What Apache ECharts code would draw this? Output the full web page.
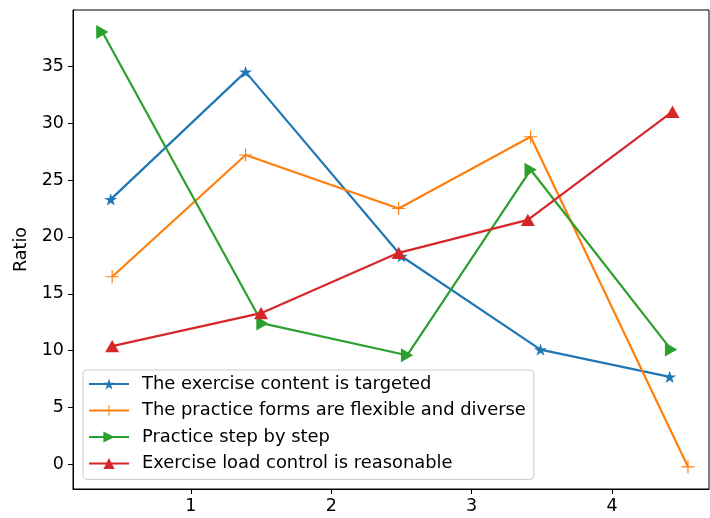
<!DOCTYPE html>
<html>
<head>
<meta charset="utf-8">
<script src="https://cdn.jsdelivr.net/npm/echarts@6/dist/echarts.min.js"></script>
<style>html,body{margin:0;padding:0;background:#fff}#c{width:710px;height:518px}</style>
</head>
<body>
<div id="c"></div>
<script>
const seriesNames = [
  'The exercise content is targeted',
  'The practice forms are flexible and diverse',
  'Practice step by step',
  'Exercise load control is reasonable'
];
const targetedX = [0.43, 1.39, 2.50, 3.49, 4.41];
const targetedY = [23.3, 34.5, 18.3, 10.1, 7.7];
const flexibleX = [0.44, 1.39, 2.48, 3.42, 4.54];
const flexibleY = [16.5, 27.2, 22.5, 28.8, -0.2];
const stepX = [0.37, 1.51, 2.54, 3.42, 4.42];
const stepY = [38.0, 12.4, 9.6, 25.9, 10.1];
const loadX = [0.44, 1.50, 2.48, 3.40, 4.43];
const loadY = [10.4, 13.3, 18.6, 21.5, 31.0];
const yTicks = [0, 5, 10, 15, 20, 25, 30, 35];
const xTicks = [1, 2, 3, 4];

const colors = ['#1f77b4', '#ff7f0e', '#2ca02c', '#d62728'];
const starPath = 'path://M0,-100 L22.5,-30.9 L95.1,-30.9 L36.3,11.8 L58.8,80.9 L0,38.2 L-58.8,80.9 L-36.3,11.8 L-95.1,-30.9 L-22.5,-30.9 Z';
const plusPath = 'path://M-9,-100 L9,-100 L9,-9 L100,-9 L100,9 L9,9 L9,100 L-9,100 L-9,9 L-100,9 L-100,-9 L-9,-9 Z';
const rightTri = 'path://M0,0 L100,57 L0,114 Z';
const upTri = 'path://M57,0 L114,100 L0,100 Z';

function pairs(xs, ys) { return xs.map((x, i) => [x, ys[i]]); }
const xsAll = [targetedX, flexibleX, stepX, loadX];
const ysAll = [targetedY, flexibleY, stepY, loadY];
const symbols = [starPath, plusPath, rightTri, upTri];
const sizes = [13, 13, 14, 14];

const chart = echarts.init(document.getElementById('c'), null, {renderer: 'canvas'});
const font = 'DejaVu Sans';
chart.setOption({
  animation: false,
  backgroundColor: '#fff',
  grid: {left: 73, right: 1, top: 10, bottom: 29, show: true, borderColor: '#000', borderWidth: 1, backgroundColor: 'transparent'},
  xAxis: {
    type: 'value', min: 0.161, max: 4.69,
    axisLine: {show: true, onZero: false, lineStyle: {color: '#000', width: 1}},
    axisTick: {show: true, length: 5, lineStyle: {color: '#000'}, customValues: xTicks},
    axisLabel: {color: '#000', fontSize: 17.5, fontFamily: font, margin: 8, customValues: xTicks},
    splitLine: {show: false}
  },
  yAxis: {
    type: 'value', min: -2.15, max: 39.94,
    name: 'Ratio', nameLocation: 'middle', nameGap: 43,
    nameTextStyle: {color: '#000', fontSize: 17.5, fontFamily: font},
    axisLine: {show: true, onZero: false, lineStyle: {color: '#000', width: 1}},
    axisTick: {show: true, length: 5, lineStyle: {color: '#000'}, customValues: yTicks},
    axisLabel: {color: '#000', fontSize: 17.5, fontFamily: font, margin: 9, customValues: yTicks},
    splitLine: {show: false}
  },
  legend: {
    orient: 'vertical', left: 83, top: 370,
    padding: [5, 8, 7, 5], itemGap: 8.5, itemWidth: 40, itemHeight: 14,
    borderColor: '#ccc', borderWidth: 1, borderRadius: 4,
    backgroundColor: 'rgba(255,255,255,0.8)',
    textStyle: {color: '#000', fontSize: 17.9, lineHeight: 18, fontFamily: font, padding: [0, 0, 0, 8]},
    data: seriesNames
  },
  series: seriesNames.map((n, i) => ({
    name: n, type: 'line', data: pairs(xsAll[i], ysAll[i]),
    symbol: symbols[i], symbolSize: sizes[i], symbolKeepAspect: true,
    showAllSymbol: true,
    lineStyle: {color: colors[i], width: 2.2},
    itemStyle: {color: colors[i], borderWidth: 0},
    emphasis: {disabled: true},
    z: 2 + i
  }))
});
</script>
</body>
</html>
